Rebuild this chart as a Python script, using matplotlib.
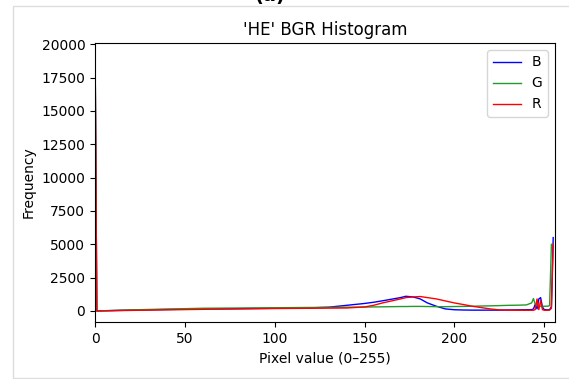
import matplotlib.pyplot as plt
from matplotlib.patches import Rectangle

px = [0, 1, 20, 40, 60, 80, 100, 120, 130, 140, 150, 155, 160, 165, 170, 173, 177, 181,
      185, 190, 195, 200, 205, 210, 215, 220, 225, 230, 235, 240, 243, 244, 245, 246,
      247, 248, 249, 250, 252, 253, 254, 255]

blue = [20500, 0, 60, 110, 150, 170, 200, 230, 280, 420, 560, 650, 760, 880, 1000, 1100,
        1050, 900, 600, 350, 150, 90, 70, 60, 60, 60, 60, 70, 80, 90, 100, 150, 500, 150,
        900, 1000, 300, 100, 80, 100, 300, 5500]
green = [20500, 0, 80, 140, 200, 220, 240, 260, 270, 280, 290, 300, 310, 320, 330, 330,
         340, 340, 330, 320, 320, 330, 340, 350, 370, 380, 400, 420, 430, 450, 600, 930,
         500, 400, 380, 350, 350, 350, 360, 400, 5000, 5000]
red = [20500, 0, 40, 80, 120, 150, 180, 200, 210, 220, 300, 420, 600, 750, 900, 1000,
       1050, 1080, 1000, 900, 750, 600, 480, 350, 250, 150, 80, 60, 50, 50, 50, 50, 100,
       900, 100, 800, 100, 50, 50, 60, 200, 5000]

fig = plt.figure(figsize=(5.69, 3.79), dpi=100)
# screenshot frame
fig.patches.append(Rectangle((13 / 569, 1 / 379), 1.2, 372 / 379, transform=fig.transFigure,
                             fill=False, edgecolor='#dddddd', linewidth=1))
fig.text(0.475, 1.012, '(a)', ha='center', va='center', fontsize=14, fontweight='bold')

ax = fig.add_axes([95 / 569, 57 / 379, 460 / 569, 279 / 379])
ax.plot(px, blue, color='b', linewidth=1, label='B')
ax.plot(px, green, color='#22992a', linewidth=1, label='G')
ax.plot(px, red, color='r', linewidth=1, label='R')
ax.set_xlim([0, 256])
ax.set_ylim([-830, 20100])
ax.set_yticks(range(0, 20001, 2500))
ax.set_title("'HE' BGR Histogram", fontsize=12)
ax.set_xlabel('Pixel value (0–255)')
ax.set_ylabel('Frequency')
ax.legend(loc='upper right')

plt.savefig('out.png', dpi=100)
